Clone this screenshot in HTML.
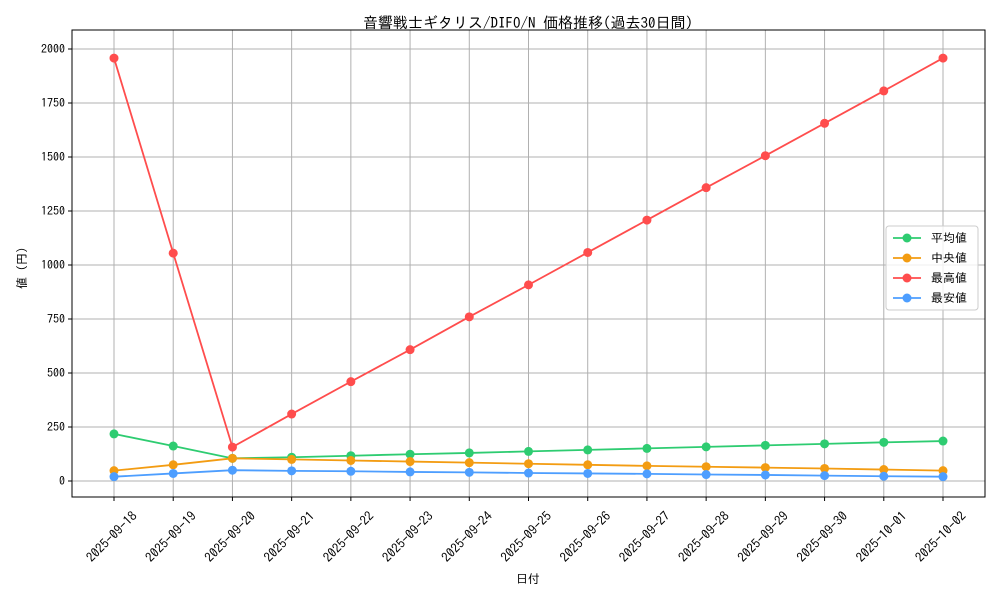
<!DOCTYPE html>
<html><head><meta charset="utf-8"><style>
body{margin:0;background:#fff;}
svg text{font-family:"IPAGothic","Liberation Sans","Noto Sans CJK JP",sans-serif;fill:#000;}
</style></head><body>
<svg id="chart" width="1000" height="600" xmlns="http://www.w3.org/2000/svg">
<text x="528" y="28" font-size="15" text-anchor="middle">音響戦士ギタリス/DIFO/N 価格推移(過去30日間)</text>
<g id="grid"></g>
<rect x="72" y="30" width="913" height="467" fill="none" stroke="#000" stroke-width="1"/>
<g id="ticks"></g>
<g id="series"></g>
<text x="528" y="583" font-size="12" text-anchor="middle">日付</text>
<text x="26" y="268" font-size="12" text-anchor="middle" transform="rotate(-90 26 268)">値 (円)</text>
<g id="legend"></g>
</svg>
<script>
const categories=["2025-09-18","2025-09-19","2025-09-20","2025-09-21","2025-09-22","2025-09-23","2025-09-24","2025-09-25","2025-09-26","2025-09-27","2025-09-28","2025-09-29","2025-09-30","2025-10-01","2025-10-02"];
const avgValues=[218,162,105,110,117,124,130,137,144,151,158,165,172,179,185];
const medianValues=[48,75,105,100,95,90,85,80,75,70,66,62,58,53,48];
const maxValues=[1958,1055,157,310,460,608,760,908,1058,1208,1358,1506,1656,1806,1958];
const minValues=[20,35,50,47,45,42,40,37,35,33,30,28,25,22,20];
const yTicks=[0,250,500,750,1000,1250,1500,1750,2000];
const seriesNames=["平均値","中央値","最高値","最安値"];
const NS="http://www.w3.org/2000/svg";
const x=i=>114+i*(943-114)/(categories.length-1);
const y=v=>481-v*(481-49)/2000;
function mk(t,a,p){const e=document.createElementNS(NS,t);for(const k in a)e.setAttribute(k,a[k]);p.appendChild(e);return e;}
const grid=document.getElementById('grid'),ticks=document.getElementById('ticks'),ser=document.getElementById('series'),leg=document.getElementById('legend');
categories.forEach((c,i)=>{
 const g=mk('line',{x1:x(i),x2:x(i),y1:30,y2:497,stroke:'#b0b0b0','stroke-width':1},grid);
 
 
 const tk=mk('line',{x1:x(i),x2:x(i),y1:497,y2:501,stroke:'#000'},ticks);
 
 
 const cx=x(i)-2, cy=537;
 const t=mk('text',{x:cx,y:cy+4,'font-size':13,'text-anchor':'middle',transform:`rotate(-45 ${cx} ${cy})`},ticks);
 t.textContent=c;
 
 
});
yTicks.forEach(v=>{
 const g=mk('line',{x1:72,x2:985,y1:y(v),y2:y(v),stroke:'#b0b0b0','stroke-width':1},grid);
 
 
 const tk=mk('line',{x1:68,x2:72,y1:y(v),y2:y(v),stroke:'#000'},ticks);
 
 
 const t=mk('text',{x:65,y:y(v)+4,'font-size':12,'text-anchor':'end'},ticks);
 t.textContent=v;
 
 
});
const all=[[avgValues,'#2ecc71'],[medianValues,'#f39c12'],[maxValues,'#ff4d4d'],[minValues,'#4d9eff']];
all.forEach(([vals,col],si)=>{
 const pl=mk('polyline',{points:vals.map((v,i)=>x(i)+','+y(v)).join(' '),fill:'none',stroke:col,'stroke-width':1.8},ser);
 
 
 vals.forEach((v,i)=>{
  const c=mk('circle',{cx:x(i),cy:y(v),r:4.5,fill:col},ser);
  
  
 });
});
const lb=mk('rect',{x:886,y:226,width:92,height:84,rx:3,fill:'#fff','fill-opacity':0.8,stroke:'#ccc'},leg);


all.forEach(([v,col],i)=>{
 const yy=238+i*20;
 const l=mk('line',{x1:893,x2:921,y1:yy,y2:yy,stroke:col,'stroke-width':1.8},leg);
 
 
 const c=mk('circle',{cx:907,cy:yy,r:4.5,fill:col},leg);
 
 
 const t=mk('text',{x:931,y:yy+4,'font-size':12},leg);
 t.textContent=seriesNames[i];
 
 
});
</script>
</body></html>
